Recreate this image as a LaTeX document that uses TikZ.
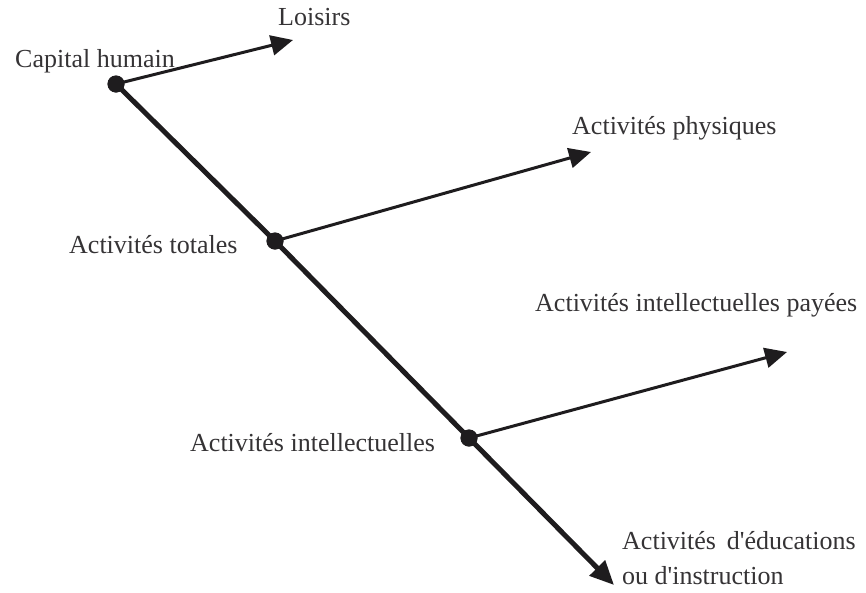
\documentclass[tikz,border=0pt]{standalone}
\usepackage{fontspec}
\setmainfont{Liberation Serif}
\usetikzlibrary{arrows.meta, positioning, calc}
\definecolor{inkblack}{RGB}{30, 28, 30}

\begin{document}
\begin{tikzpicture}[x=1pt, y=-1pt,
  lbl/.style={font=\fontsize{26}{28}\selectfont, text=inkblack!90, inner sep=0pt},
  stem/.style={line width=5pt, draw=inkblack},
  branch/.style={line width=3pt, draw=inkblack, -{Triangle[length=22pt, width=20pt]}},
  knot/.style={circle, fill=inkblack, minimum size=17pt, inner sep=0pt}]
  \useasboundingbox (0, 0) rectangle (866, 592);

  % Nodes on the main line
  \node[knot] (capital) at (116, 84) {};
  \node[knot] (totales) at (275, 241) {};
  \node[knot] (intel) at (469, 438) {};

  % Free ends of the arrows
  \coordinate (loisirsEnd) at (293, 40);
  \coordinate (physEnd) at (591, 152);
  \coordinate (payEnd) at (787, 352);
  \coordinate (eduEnd) at (614, 585);

  % Labels
  \node[lbl, anchor=base west] (capitalLbl) at (15, 67) {Capital humain};
  \node[lbl, anchor=base west] (loisirsLbl) at (278, 25) {Loisirs};
  \node[lbl, anchor=base west] (totalesLbl) at (69, 253) {Activités totales};
  \node[lbl, anchor=base west] (physLbl) at (572, 134) {Activités physiques};
  \node[lbl, anchor=base west] (intelLbl) at (190, 451) {Activités intellectuelles};
  \node[lbl, anchor=base west] (payLbl) at (535, 311) {Activités intellectuelles payées};
  \node[lbl, anchor=base west] (eduLbl) at (622, 549) {Activités\, d\textquotesingle éducations};
  \node[lbl, anchor=base west] (eduLbl2) at (622, 584) {ou d\textquotesingle instruction};

  % Main line
  \draw[stem] (capital.center) -- (totales.center) -- (intel.center);
  \draw[stem, -{Triangle[length=24pt, width=21pt]}] (intel.center) -- (eduEnd);

  % Branches
  \draw[branch] (capital.center) -- (loisirsEnd);
  \draw[branch] (totales.center) -- (physEnd);
  \draw[branch] (intel.center) -- (payEnd);

  % Dots on top
  \foreach \n in {capital, totales, intel}
    \fill[inkblack] (\n) circle (8.5pt);
\end{tikzpicture}
\end{document}
